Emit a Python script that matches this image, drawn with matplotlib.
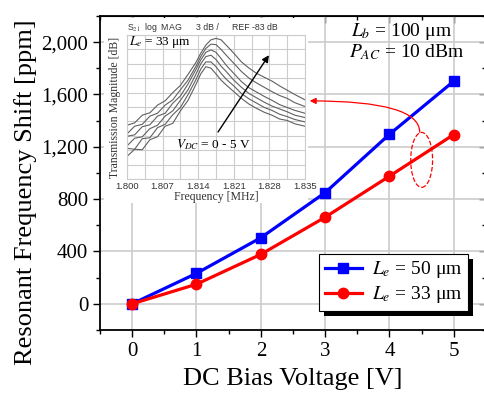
import matplotlib
matplotlib.use('Agg')
import matplotlib.pyplot as plt
from matplotlib.patches import Ellipse, Rectangle
import numpy as np

plt.rcParams['font.family'] = ['Liberation Serif', 'DejaVu Serif']
plt.rcParams['mathtext.fontset'] = 'stix'

# main data: resonant frequency shift vs DC bias
voltage = [0, 1, 2, 3, 4, 5]
shift_le50 = [0, 233, 505, 850, 1296, 1702]
shift_le33 = [0, 150, 378, 662, 976, 1294]

# inset: transmission magnitude traces for VDC = 0..5 V
freq = [1.800, 1.8015, 1.803, 1.8045, 1.806, 1.8075, 1.809, 1.8105, 1.812,
        1.8135, 1.8145, 1.8155, 1.8165, 1.8175, 1.8185, 1.8195, 1.821,
        1.8225, 1.824, 1.8255, 1.827, 1.8285, 1.830, 1.8315, 1.833, 1.835]
mag_v0 = [-108.3, -106.8, -106.9, -104.8, -104.2, -102.0, -101.4, -98.8, -96.6,
          -93.4, -91.1, -89.6, -89.9, -91.1, -92.4, -93.4, -94.8, -96.2, -97.4,
          -98.3, -99.1, -99.7, -100.5, -100.8, -101.5, -102.0]
mag_v1 = [-106.6, -106.8, -104.6, -104.4, -102.3, -101.6, -99.6, -98.1, -95.4,
          -92.4, -90.1, -88.6, -88.6, -89.6, -91.0, -92.2, -93.6, -95.2, -96.3,
          -97.2, -98.1, -98.7, -99.5, -100.0, -100.6, -101.1]
mag_v2 = [-106.1, -104.5, -104.2, -102.5, -101.8, -99.9, -98.8, -96.6, -94.4,
          -91.3, -89.0, -87.5, -87.2, -88.1, -89.5, -90.6, -92.4, -93.9, -95.2,
          -96.1, -97.0, -97.8, -98.4, -99.0, -99.7, -100.2]
mag_v3 = [-104.1, -103.8, -102.1, -101.7, -99.9, -99.3, -97.2, -95.7, -93.2,
          -90.3, -88.2, -86.6, -86.1, -86.6, -87.9, -89.3, -91.0, -92.7, -94.0,
          -94.9, -95.8, -96.6, -97.5, -98.1, -98.7, -99.3]
mag_v4 = [-103.6, -102.0, -101.6, -99.9, -99.3, -97.6, -96.5, -94.4, -92.4,
          -89.6, -87.5, -85.8, -84.9, -85.0, -86.0, -87.2, -88.9, -90.6, -92.0,
          -93.0, -93.9, -94.8, -95.6, -96.2, -97.1, -97.9]
mag_v5 = [-101.8, -101.3, -99.7, -99.2, -97.6, -96.7, -95.0, -93.5, -91.2,
          -88.8, -86.8, -85.1, -84.0, -83.7, -84.0, -85.1, -86.8, -88.6, -89.9,
          -91.0, -91.8, -92.6, -93.6, -94.5, -95.4, -96.5]
traces = [mag_v0, mag_v1, mag_v2, mag_v3, mag_v4, mag_v5]

fig = plt.figure(figsize=(4.84, 4.04), dpi=100)
ax = fig.add_axes([0.2066, 0.1832, 0.7975, 0.7772])

ax.set_xlim(-0.5, 5.5)
ax.set_ylim(-200, 2200)
ax.set_xticks([0, 1, 2, 3, 4, 5])
ax.set_xticks(np.arange(-0.5, 5.6, 0.5), minor=True)
ax.set_yticks([0, 400, 800, 1200, 1600, 2000])
ax.set_yticklabels(['0', '400', '800', '1,200', '1,600', '2,000'])
ax.set_yticks(np.arange(-200, 2201, 200), minor=True)
ax.tick_params(which='major', direction='out', length=5, width=1, labelsize=15)
ax.tick_params(which='minor', direction='out', length=3, width=1)
ax.grid(True, which='major', color='#cccccc', lw=1.2)
for s in ax.spines.values():
    s.set_linewidth(1.3)

# inward ticks on top and right
top = ax.secondary_xaxis('top')
top.set_xticks([0, 1, 2, 3, 4, 5])
top.set_xticks(np.arange(-0.5, 5.6, 0.5), minor=True)
top.tick_params(which='major', direction='in', length=5, width=1, labeltop=False)
top.tick_params(which='minor', direction='in', length=3, width=1)
right = ax.secondary_yaxis('right')
right.set_yticks([0, 400, 800, 1200, 1600, 2000])
right.set_yticks(np.arange(-200, 2201, 200), minor=True)
right.tick_params(which='major', direction='in', length=5, width=1, labelright=False)
right.tick_params(which='minor', direction='in', length=3, width=1)

ax.plot(voltage, shift_le50, color='#0000ff', lw=2.3, marker='s', ms=6.5,
        label=r'$L_e$ = 50 μm', zorder=4)
ax.plot(voltage, shift_le33, color='#ff0000', lw=2.3, marker='o', ms=7.5,
        label=r'$L_e$ = 33 μm', zorder=4)

ax.set_xlabel('DC Bias Voltage [V]', fontsize=19)
ax.set_ylabel('Resonant Frequency Shift [ppm]', fontsize=19)
ax.xaxis.set_label_coords(0.5, -0.12)
ax.yaxis.set_label_coords(-0.162, 0.44)

ax.text(4.19, 2078, r'$L_b$ = 100 μm', fontsize=14, ha='center', va='center')
ax.text(4.27, 1925, r'$P_{AC}$ = 10 dBm', fontsize=14, ha='center', va='center')

leg = ax.legend(loc='lower right', bbox_to_anchor=(0.953, 0.06), borderaxespad=0,
                fontsize=14, fancybox=False, framealpha=1, edgecolor='black',
                handlelength=1.9, borderpad=0.3, labelspacing=0.2, handletextpad=0.5)
leg.get_frame().set_linewidth(0.8)
leg.set_zorder(6)

# dashed ellipse and curved arrow towards the inset
ax.add_patch(Ellipse((4.5, 1100), 0.34, 420, fill=False, ec='red', ls='--', lw=0.9, zorder=5))
ax.annotate('', xy=(2.76, 1551), xytext=(4.47, 1312),
            arrowprops=dict(arrowstyle='-|>', color='red', lw=0.9, mutation_scale=9,
                            connectionstyle='angle3,angleA=90,angleB=0',
                            shrinkA=0, shrinkB=0),
            zorder=5)

# white area behind the inset
ax.add_patch(Rectangle((104 / 484, 1 - 203 / 404), 204 / 484, 185 / 404,
                       transform=fig.transFigure, fc='white', ec='none', zorder=1.8))

ins = fig.add_axes([0.2624, 0.5569, 0.3678, 0.3564])
ins.set_facecolor('white')
for v in traces:
    ins.plot(freq, v, color='#606060', lw=0.8)
ins.set_xlim(1.800, 1.835)
ins.set_ylim(-113, -83)
ins.set_xticks([1.800, 1.807, 1.814, 1.821, 1.828, 1.835])
ins.set_xticklabels(['1.800', '1.807', '1.814', '1.821', '1.828', '1.835'],
                    fontfamily='Liberation Sans', fontsize=6.8, color='#333333')
ins.set_xticks(np.arange(1.8035, 1.835, 0.007), minor=True)
ins.set_yticks(np.arange(-113, -82, 3))
ins.set_yticklabels([])
ins.tick_params(which='both', length=0, pad=2)
ins.grid(True, which='both', color='#cccccc', lw=0.8)
for s in ins.spines.values():
    s.set_color('#cccccc')
    s.set_linewidth(0.8)
ins.set_xlabel('Frequency [MHz]', fontsize=8.5, labelpad=0, color='#333333')
ins.set_ylabel('Transmission Magnitude [dB]', fontsize=8.5, labelpad=2, color='#333333')

hdr = dict(transform=ins.transAxes, fontfamily='Liberation Sans', fontsize=6.3,
           va='center', color='#333333')
ins.text(0.0, 1.055, r'S$_{21}$  log  MAG', ha='left', **hdr)
ins.text(0.39, 1.055, '3 dB /', ha='left', **hdr)
ins.text(0.59, 1.055, 'REF -83 dB', ha='left', **hdr)
ins.text(0.01, 0.95, r'$L_e$ = 33 μm', transform=ins.transAxes, fontsize=9.5,
         ha='left', va='center')
ins.text(0.485, 0.236, r'$V_{DC}$ = 0 - 5 V', transform=ins.transAxes, fontsize=9.5,
         ha='center', va='center')
ins.annotate('', xy=(1.8279, -87.2), xytext=(1.8179, -103.2),
             arrowprops=dict(arrowstyle='-|>', color='black', lw=1.0,
                             mutation_scale=10, shrinkA=0, shrinkB=0))

# solid black drop shadow under the legend
fig.canvas.draw()
bb = leg.get_window_extent()
ax.add_patch(Rectangle((bb.x0 + 5, bb.y0 - 5), bb.width, bb.height, transform=None,
                       fc='black', ec='none', zorder=5.5, clip_on=False))

fig.savefig('out.png', dpi=100)
